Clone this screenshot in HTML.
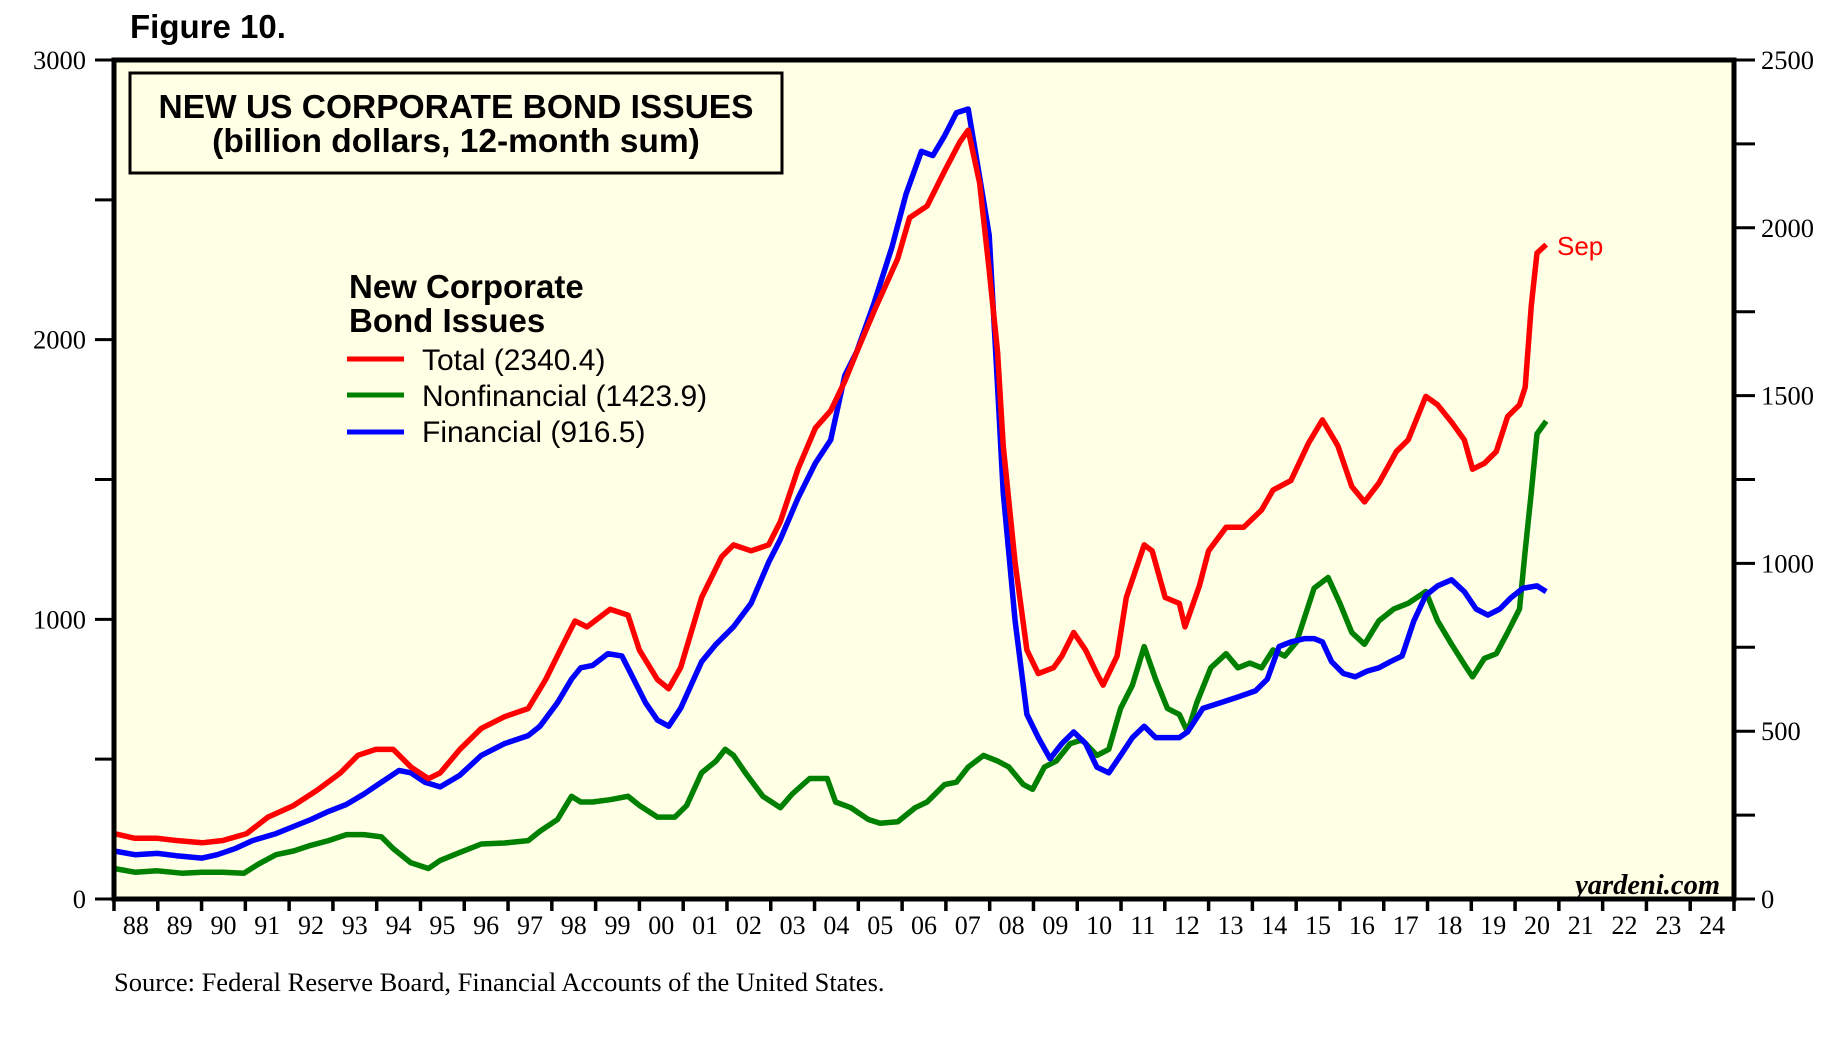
<!DOCTYPE html>
<html><head><meta charset="utf-8"><style>
html,body{margin:0;padding:0;background:#fff;width:1838px;height:1051px;overflow:hidden}
svg{display:block}
.s{font-family:"Liberation Serif",serif}
.a{font-family:"Liberation Sans",sans-serif}
</style></head><body>
<svg id="chart" width="1838" height="1051" viewBox="0 0 1838 1051" xmlns="http://www.w3.org/2000/svg">
<text class="a" x="130" y="38" font-size="33" font-weight="bold">Figure 10.</text>
<rect x="114" y="60" width="1620" height="839" fill="#FFFFE5"/>
<g id="grid"></g>
<g id="lines"></g>
<rect x="114" y="60" width="1620" height="839" fill="none" stroke="#000" stroke-width="5"/>
<rect x="130" y="73" width="652" height="100" fill="#FFFFE5" stroke="#000" stroke-width="3"/>
<text class="a" x="456" y="118" font-size="33.5" font-weight="bold" text-anchor="middle">NEW US CORPORATE BOND ISSUES</text>
<text class="a" x="456" y="152" font-size="33.5" font-weight="bold" text-anchor="middle">(billion dollars, 12-month sum)</text>
<g>
<text class="a" x="349" y="298" font-size="33" font-weight="bold">New Corporate</text>
<text class="a" x="349" y="332" font-size="33" font-weight="bold">Bond Issues</text>
<line x1="347" y1="359" x2="404" y2="359" stroke="#ff0000" stroke-width="5"/>
<text class="a" x="422" y="370" font-size="30">Total (2340.4)</text>
<line x1="347" y1="395" x2="404" y2="395" stroke="#008000" stroke-width="5"/>
<text class="a" x="422" y="406" font-size="30">Nonfinancial (1423.9)</text>
<line x1="347" y1="432" x2="404" y2="432" stroke="#0000ff" stroke-width="5"/>
<text class="a" x="422" y="442" font-size="30">Financial (916.5)</text>
</g>
<text class="a" x="1557" y="255" font-size="26" fill="#ff0000">Sep</text>
<text class="s" x="1720" y="894" font-size="28.5" font-style="italic" font-weight="bold" text-anchor="end">yardeni.com</text>
<text class="s" x="114" y="991" font-size="26.5">Source: Federal Reserve Board, Financial Accounts of the United States.</text>
</svg>
<script>
const yearLabels=["88","89","90","91","92","93","94","95","96","97","98","99","00","01","02","03","04","05","06","07","08","09","10","11","12","13","14","15","16","17","18","19","20","21","22","23","24"];
const leftTicks=[0,1000,2000,3000];
const rightTicks=[0,500,1000,1500,2000,2500];
const totalT=[0,.48,.99,1.42,2.01,2.49,3.03,3.51,4.10,4.64,5.17,5.57,5.98,6.38,6.78,7.18,7.45,7.90,8.39,8.92,9.46,9.86,10.26,10.53,10.80,11.33,11.74,12.00,12.41,12.67,12.94,13.42,13.88,14.15,14.55,14.95,15.22,15.62,16.02,16.37,16.69,16.96,17.36,17.90,18.17,18.57,18.97,19.32,19.51,19.77,19.99,20.18,20.31,20.58,20.85,21.11,21.46,21.65,21.92,22.19,22.45,22.59,22.91,23.12,23.53,23.71,24.01,24.33,24.46,24.79,25.00,25.40,25.80,26.21,26.47,26.88,27.28,27.60,27.95,28.27,28.56,28.89,29.29,29.56,29.96,30.23,30.55,30.84,31.03,31.30,31.57,31.83,32.10,32.23,32.37,32.50,32.71];
const totalV=[234,217,217,209,201,209,234,292,334,389,451,514,535,535,472,430,451,535,610,652,681,785,911,994,973,1036,1015,890,785,752,827,1078,1224,1266,1245,1266,1350,1537,1684,1746,1851,1955,2102,2290,2436,2478,2603,2707,2749,2561,2248,1955,1621,1203,890,806,827,869,953,890,806,765,869,1078,1266,1245,1078,1057,973,1120,1245,1329,1329,1391,1462,1496,1629,1713,1621,1475,1420,1487,1600,1642,1797,1767,1705,1642,1537,1558,1600,1725,1767,1830,2122,2310,2340];
const nonfinT=[0,.48,.99,1.55,2.01,2.49,2.97,3.30,3.70,4.10,4.50,4.90,5.31,5.71,6.11,6.38,6.78,7.18,7.45,7.90,8.39,8.92,9.46,9.73,10.13,10.45,10.66,10.93,11.33,11.74,12.00,12.41,12.81,13.08,13.42,13.75,13.96,14.15,14.42,14.82,15.22,15.49,15.89,16.29,16.48,16.83,17.23,17.50,17.90,18.30,18.57,18.97,19.24,19.51,19.86,20.18,20.44,20.77,20.98,21.25,21.52,21.84,22.11,22.45,22.72,22.99,23.26,23.53,23.79,24.06,24.33,24.52,24.73,25.05,25.40,25.67,25.94,26.21,26.47,26.74,27.01,27.41,27.73,28.00,28.27,28.56,28.89,29.23,29.56,29.96,30.23,30.55,30.89,31.03,31.30,31.57,31.83,32.10,32.23,32.37,32.50,32.71];
const nonfinV=[91,80,84,77,80,80,77,104,132,143,160,174,192,192,185,150,108,91,115,139,164,167,174,202,237,306,289,289,296,306,279,244,244,279,376,411,446,428,376,306,272,313,359,359,289,272,237,226,230,272,289,341,348,393,428,411,393,341,327,393,411,463,474,428,446,568,637,752,655,568,550,498,585,689,731,689,703,689,742,724,766,926,958,881,794,759,829,864,881,916,829,759,689,662,717,731,794,864,1038,1212,1386,1424];
const finT=[0,.48,.99,1.42,2.01,2.36,2.76,3.16,3.70,4.10,4.50,4.90,5.31,5.71,6.11,6.51,6.78,7.10,7.45,7.90,8.39,8.92,9.46,9.73,10.13,10.45,10.66,10.93,11.28,11.60,11.87,12.14,12.41,12.67,12.94,13.42,13.75,14.15,14.55,14.95,15.22,15.62,16.02,16.37,16.69,16.96,17.36,17.77,18.09,18.44,18.70,18.97,19.24,19.51,19.77,19.99,20.18,20.31,20.58,20.85,21.11,21.38,21.65,21.92,22.19,22.45,22.72,22.99,23.26,23.53,23.79,24.06,24.33,24.52,24.87,25.27,25.67,26.07,26.34,26.61,26.88,27.20,27.41,27.60,27.81,28.08,28.35,28.62,28.89,29.15,29.42,29.69,29.96,30.23,30.55,30.84,31.11,31.38,31.65,31.91,32.18,32.50,32.71];
const finV=[143,132,136,129,122,132,150,174,195,216,237,261,282,313,348,383,376,348,334,369,428,463,487,515,585,655,689,696,731,724,655,585,533,515,568,707,759,811,881,1003,1072,1194,1299,1368,1560,1630,1776,1943,2100,2228,2215,2274,2343,2354,2152,1978,1525,1212,829,550,481,418,463,498,463,393,376,428,481,515,481,481,481,498,568,585,602,620,655,752,766,776,776,766,707,672,662,679,689,707,724,829,905,933,951,916,864,846,864,898,926,933,916];

const X0=114,X1=1734,Y0=60,Y1=899,NY=37;
function xs(t){return X0+t*(X1-X0)/NY;}
function yl(v){return Y1-v*(Y1-Y0)/3000;}
function yr(v){return Y1-v*(Y1-Y0)/2500;}
const NS="http://www.w3.org/2000/svg";
const svg=document.getElementById('chart');
const grid=document.getElementById('grid');
const lines=document.getElementById('lines');
function mk(tag,attrs,parent){const e=document.createElementNS(NS,tag);for(const k in attrs)e.setAttribute(k,attrs[k]);(parent||svg).appendChild(e);return e;}

for(let v=0;v<=3000;v+=500){
  const l=mk('line',{x1:95,x2:114,y1:yl(v),y2:yl(v),stroke:'#000','stroke-width':3},grid);
  
  
}
leftTicks.forEach(v=>{
  const t=mk('text',{x:86,y:yl(v)+9,'font-size':26.5,'text-anchor':'end','class':'s'});
  t.textContent=v;
  
  
});
for(let v=0;v<=2500;v+=250){
  const l=mk('line',{x1:1734,x2:1755,y1:yr(v),y2:yr(v),stroke:'#000','stroke-width':3},grid);
  
  
}
rightTicks.forEach(v=>{
  const t=mk('text',{x:1761,y:yr(v)+9,'font-size':26.5,'class':'s'});
  t.textContent=v;
  
  
});
for(let i=0;i<=NY;i++){
  const l=mk('line',{x1:xs(i),x2:xs(i),y1:899,y2:911,stroke:'#000','stroke-width':3.5},grid);
  
  
}
yearLabels.forEach((lab,i)=>{
  const t=mk('text',{x:xs(i+0.5),y:934,'font-size':26,'text-anchor':'middle','class':'s'});
  t.textContent=lab;
  
  
});
function series(T,V,yf,color,name){
  const n=Math.min(T.length,V.length);
  let d='';
  for(let i=0;i<n;i++)d+=(i?'L':'M')+xs(T[i]).toFixed(1)+' '+yf(V[i]).toFixed(1);
  const p=mk('path',{d:d,fill:'none',stroke:color,'stroke-width':5.5,'stroke-linejoin':'round'},lines);
  
  
}
series(nonfinT,nonfinV,yr,'#008000','nonfinancial-line');
series(finT,finV,yr,'#0000ff','financial-line');
series(totalT,totalV,yl,'#ff0000','total-line');
</script>
</body></html>
